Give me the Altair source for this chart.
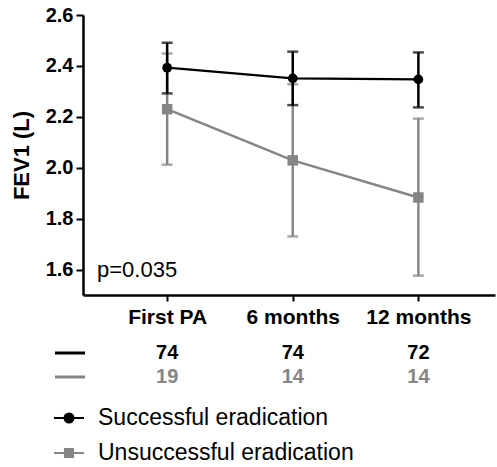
import altair as alt
import pandas as pd

times = ["First PA", "6 months", "12 months"]
series_names = ["Successful eradication", "Unsuccessful eradication"]
colors = ["#000000", "#858585"]

succ_mean = [2.393, 2.351, 2.347]
succ_lo = [2.292, 2.246, 2.237]
succ_hi = [2.491, 2.456, 2.453]
uns_mean = [2.230, 2.029, 1.883]
uns_lo = [2.012, 1.730, 1.576]
uns_hi = [2.449, 2.328, 2.193]
succ_n = [74, 74, 72]
uns_n = [19, 14, 14]
y_ticks = [1.6, 1.8, 2.0, 2.2, 2.4, 2.6]
p_label = "p=0.035"

FONT = "Liberation Sans"

rows = []
for i, t in enumerate(times):
    rows.append(dict(series=series_names[0], idx=i, time=t, mean=succ_mean[i], lo=succ_lo[i], hi=succ_hi[i], n=succ_n[i]))
    rows.append(dict(series=series_names[1], idx=i, time=t, mean=uns_mean[i], lo=uns_lo[i], hi=uns_hi[i], n=uns_n[i]))
df = pd.DataFrame(rows)

label_expr = "[" + ",".join("'%s'" % t for t in times) + "][datum.value]"
xscale = alt.Scale(domain=[-0.67, 2.61], nice=False, zero=False)
yscale = alt.Scale(domain=[1.5, 2.6], nice=False, zero=False)
cscale = alt.Scale(domain=series_names, range=colors)

x_enc = alt.X("idx:Q", scale=xscale, axis=alt.Axis(
    values=[0, 1, 2], labelExpr=label_expr, title=None, grid=False,
    labelFont=FONT, labelFontSize=21, labelFontWeight="bold", labelColor="black",
    tickSize=6, tickWidth=2, tickColor="black", domainColor="black", domainWidth=2.5,
    labelPadding=5))
y_enc = alt.Y("mean:Q", scale=yscale, axis=alt.Axis(
    values=y_ticks, format=".1f", title="FEV1 (L)", grid=False,
    labelFont=FONT, labelFontSize=20, labelFontWeight="bold", labelColor="black",
    titleFont=FONT, titleFontSize=22, titleFontWeight="bold", titleColor="black",
    titlePadding=12, tickSize=7, tickWidth=2, tickColor="black",
    domainColor="black", domainWidth=2.5, labelPadding=3))

circle_path = "M-1,0H1M-0.3,0A0.3,0.3,0,1,1,0.3,0A0.3,0.3,0,1,1,-0.3,0Z"
square_path = "M-1,0H1M-0.27,-0.27H0.27V0.27H-0.27Z"
legend = alt.Legend(
    title=None, orient="none", legendX=-30, legendY=387, direction="vertical",
    symbolSize=900, symbolStrokeWidth=2, symbolOpacity=1, labelFont=FONT, labelFontSize=23,
    labelColor="black", labelOffset=13, rowPadding=7, labelLimit=400)

layers = []
shapes = {series_names[0]: "circle", series_names[1]: "square"}
sizes = {series_names[0]: 95, series_names[1]: 110}
line_w = {series_names[0]: 2.2, series_names[1]: 2.5}
for s in [series_names[1], series_names[0]]:
    base = alt.Chart(df).transform_filter(alt.datum.series == s)
    col = alt.Color("series:N", scale=cscale, legend=None)
    bars = base.mark_rule(strokeWidth=2.5).encode(x=x_enc, y=alt.Y("lo:Q", scale=yscale), y2="hi:Q", color=col)
    cap_lo = base.mark_tick(thickness=2.5, size=11, orient="horizontal").encode(x=alt.X("idx:Q", scale=xscale), y=alt.Y("lo:Q", scale=yscale), color=col)
    cap_hi = base.mark_tick(thickness=2.5, size=11, orient="horizontal").encode(x=alt.X("idx:Q", scale=xscale), y=alt.Y("hi:Q", scale=yscale), color=col)
    line = base.mark_line(strokeWidth=line_w[s]).encode(x=alt.X("idx:Q", scale=xscale), y=y_enc, color=col)
    pts = base.mark_point(filled=True, opacity=1, shape=shapes[s], size=sizes[s]).encode(
        x=alt.X("idx:Q", scale=xscale), y=alt.Y("mean:Q", scale=yscale), color=col)
    layers += [bars, cap_lo, cap_hi, line, pts]

# legend-only layer (zero-size marks; its scales feed the legend)
legend_layer = alt.Chart(df).mark_point(size=0, strokeWidth=2, opacity=1).encode(
    x=alt.X("idx:Q", scale=xscale), y=alt.Y("mean:Q", scale=yscale),
    fill=alt.Fill("series:N", scale=alt.Scale(domain=series_names, range=colors), legend=legend),
    stroke=alt.Stroke("series:N", scale=alt.Scale(domain=series_names, range=colors), legend=legend),
    shape=alt.Shape("series:N", scale=alt.Scale(domain=series_names, range=[circle_path, square_path]), legend=legend))
layers.insert(0, legend_layer)

# counts table under the axis
for s, c, ypix in [(series_names[0], colors[0], 338), (series_names[1], colors[1], 362)]:
    base = alt.Chart(df).transform_filter(alt.datum.series == s)
    layers.append(base.mark_text(font=FONT, fontSize=20, fontWeight="bold", color=c, baseline="middle").encode(
        x=alt.X("idx:Q", scale=xscale), y=alt.value(ypix), text="n:Q"))
    key = alt.Chart(pd.DataFrame({"series": [s]})).mark_rule(color=c, strokeWidth=3).encode(
        x=alt.value(-28), x2=alt.value(2), y=alt.value(ypix))
    layers.append(key)

ptext = alt.Chart(pd.DataFrame({"label": [p_label], "y": [1.6]})).mark_text(
    font=FONT, fontSize=22, align="left", baseline="middle", color="black").encode(
    x=alt.value(14), y=alt.Y("y:Q", scale=yscale), text="label:N")
layers.append(ptext)

chart = alt.layer(*layers).properties(
    width=412, height=280, autosize="none",
    padding={"left": 83, "top": 15, "right": 2, "bottom": 172},
    background="white",
).configure_view(stroke=None)

chart.save("out.html", embed_options={"renderer": "svg", "actions": False})
